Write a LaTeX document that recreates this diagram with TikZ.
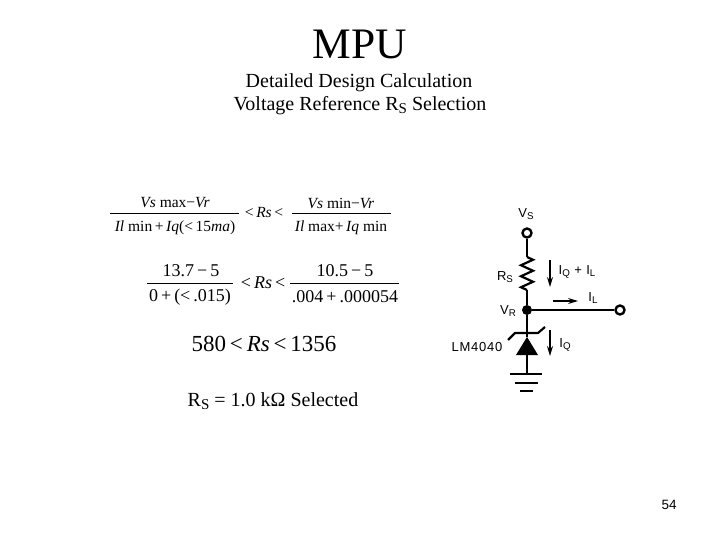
\documentclass[tikz,border=0pt]{standalone}
\usepackage{fontspec}
\setmainfont{Liberation Serif}
\newfontfamily\labelfont[LetterSpace=6]{Liberation Sans}
\newfontfamily\pagefont{Liberation Sans}
\usepackage{tikz}
\usetikzlibrary{shapes,arrows,positioning,calc,decorations.pathmorphing,arrows.meta}
\newcommand{\lowtxt}[1]{\raisebox{-0.3ex}{\scalebox{0.75}{#1}}}
\tikzset{
    title/.style={inner sep=0pt,font=\fontsize{43.5}{48}\selectfont},
    heading/.style={inner sep=0pt,font=\fontsize{20}{24}\selectfont},
    eqsmall/.style={inner sep=0pt,font=\fontsize{15.5}{18}\selectfont},
    eqmid/.style={inner sep=0pt,font=\fontsize{18}{21}\selectfont},
    eqbig/.style={inner sep=0pt,font=\fontsize{23}{27}\selectfont},
    circlbl/.style={inner sep=0pt,font=\labelfont\fontsize{13}{15}\selectfont},
    terminal/.style={draw,circle,line width=2.4pt,fill=white,minimum size=9pt,inner sep=0pt},
    junction/.style={fill,circle,minimum size=10pt,inner sep=0pt},
    wire/.style={line width=2.2pt},
    current/.style={line width=1.2pt,-{Stealth[length=10pt,width=6pt]}}
}
\begin{document}
\begin{tikzpicture}[x=1pt,y=-1pt]
    \useasboundingbox (0,0) rectangle (720,540);
    \node[title] (ttl) at (360,44) {MPU};
    \node[heading] (sub1) at (359,83) {Detailed Design Calculation};
    \node[heading] (sub2) at (360,106) {Voltage Reference R\lowtxt{S} Selection};

    % First inequality
    \node[eqsmall] (n1) at (175,203) {\textit{Vs} max−\textit{Vr}};
    \node[eqsmall] (d1) at (175,228) {\textit{Il} min\,+\,\textit{Iq}(<\,15\textit{ma})};
    \node[eqsmall] (m1) at (264,213) {<\,\textit{Rs}\,<};
    \node[eqsmall] (n2) at (341,203) {\textit{Vs} min−\textit{Vr}};
    \node[eqsmall] (d2) at (341,228) {\textit{Il} max+\,\textit{Iq} min};
    \draw (110,213) -- (239,213);
    \draw (292,213) -- (391,213);

    % Second inequality
    \node[eqmid] (n3) at (191,271) {13.7\,−\,5};
    \node[eqmid] (d3) at (190,297) {0\,+\,(<\,.015)};
    \node[eqmid] (m2) at (263,283) {<\,\textit{Rs}\,<};
    \node[eqmid] (n4) at (345,271) {10.5\,−\,5};
    \node[eqmid] (d4) at (345,297) {.004\,+\,.000054};
    \draw (147,283) -- (233,283);
    \draw (290,283) -- (399,283);

    % Result
    \node[eqbig] (res) at (264,344) {580\,<\,\textit{Rs}\,<\,1356};
    \node[heading] (sel) at (273,401) {R\lowtxt{S} = 1.0 kΩ Selected};

    % Regulator circuit
    \node[terminal] (vs) at (527,233) {};
    \node[junction] (vr) at (527,310) {};
    \node[terminal] (out) at (620,310) {};
    \coordinate (rtop) at (527,257);
    \coordinate (rbot) at (527,290);
    \coordinate (ktop) at (527,337);
    \coordinate (kbot) at (527,355);
    \coordinate (gnd) at (527,374);
    \draw[wire] (vs) -- (rtop);
    \draw[wire,decorate,decoration={zigzag,segment length=11pt,amplitude=6pt}] (rtop) -- (rbot);
    \draw[wire] (rbot) -- (vr);
    \draw[wire] (vr) -- (out);
    \draw[wire] (vr) -- (ktop);
    \draw[wire] (kbot) -- (gnd);
    \fill (ktop) -- (538,355) -- (516,355) -- cycle;
    \draw[wire] (508,340) -- (515,333) -- (538,333) -- (545,327);
    % Ground
    \draw[wire] (510,374) -- (542,374);
    \draw[wire] (515,383) -- (538,383);
    \draw[wire] (520,391) -- (533,391);

    % Currents
    \draw[current] (550,260) -- (550,287);
    \draw[current] (553,301) -- (578,301);
    \draw[current] (550,330) -- (550,356);

    \node[circlbl] (lvs) at (526,214) {V\lowtxt{S}};
    \node[circlbl] (lrs) at (505,277) {R\lowtxt{S}};
    \node[circlbl] (lvr) at (508,311) {V\lowtxt{R}};
    \node[circlbl] (lm) at (477,347) {LM4040};
    \node[circlbl] (liql) at (577,272) {I\lowtxt{Q} + I\lowtxt{L}};
    \node[circlbl] (lil) at (593,298) {I\lowtxt{L}};
    \node[circlbl] (liq) at (565,345) {I\lowtxt{Q}};

    \node[inner sep=0pt,font=\pagefont\fontsize{13.5}{16}\selectfont] (pg) at (669,505) {54};
\end{tikzpicture}
\end{document}
